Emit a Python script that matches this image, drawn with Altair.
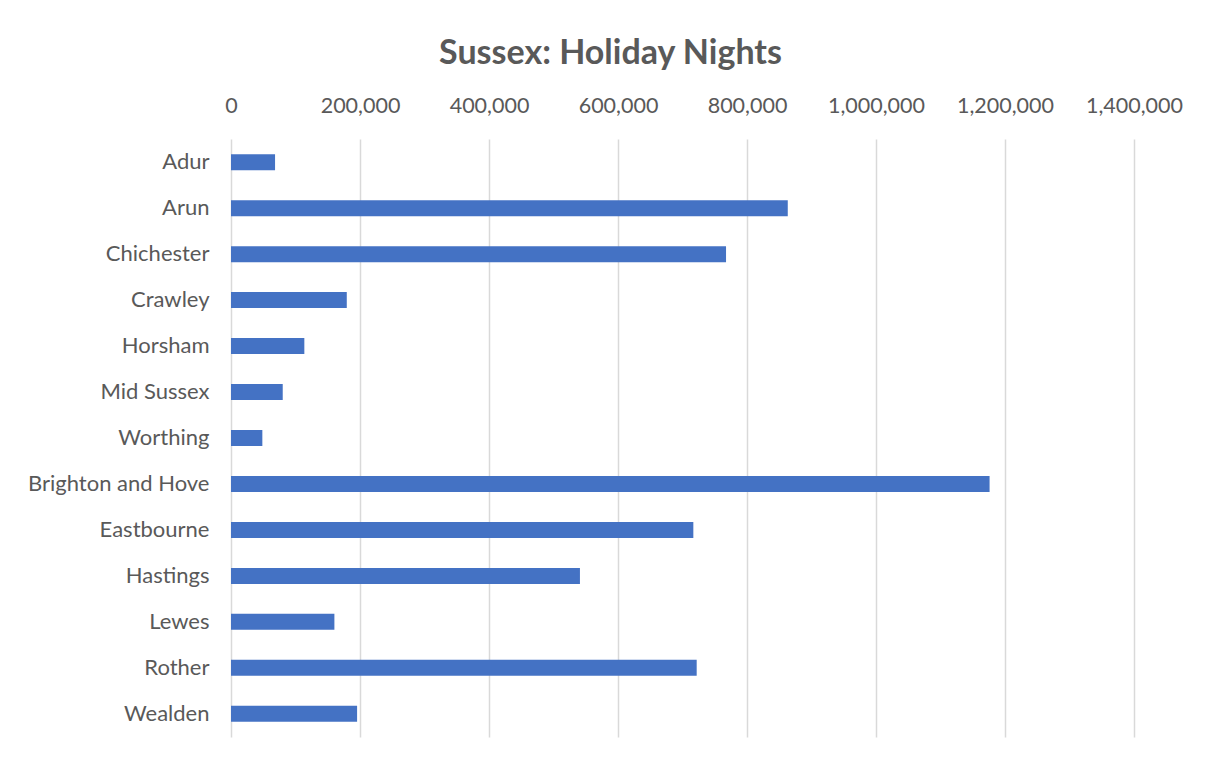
import altair as alt
import pandas as pd

districts = ["Adur", "Arun", "Chichester", "Crawley", "Horsham", "Mid Sussex", "Worthing",
             "Brighton and Hove", "Eastbourne", "Hastings", "Lewes", "Rother", "Wealden"]
nights = [68300, 863200, 767500, 179500, 113700, 80200, 48600,
          1176100, 716800, 541000, 160300, 722000, 195500]
ticks = [0, 200000, 400000, 600000, 800000, 1000000, 1200000, 1400000]

df = pd.DataFrame({"District": districts, "Nights": nights})

FONT = "Lato"
GREY = "#595959"

chart = alt.Chart(df).mark_bar(color="#4472C4", size=16).encode(
    x=alt.X("Nights:Q",
            scale=alt.Scale(domain=[0, 1400000], nice=False),
            axis=alt.Axis(orient="top", values=ticks, labelOverlap=False, labelFlush=False,
                          format=",.0f", title=None, grid=True, gridColor="#D9D9D9", gridWidth=1.5,
                          domain=False, ticks=False, labelPadding=22, labelFontSize=21.5,
                          labelColor=GREY, labelFont=FONT)),
    y=alt.Y("District:N", sort=districts,
            scale=alt.Scale(paddingInner=0.65, paddingOuter=0.33),
            axis=alt.Axis(title=None, domain=False, ticks=False, labelPadding=22, labelLimit=400,
                          labelFontSize=22, labelColor=GREY, labelFont=FONT)),
).properties(
    width=903, height=598,
    background="white",
    title=alt.TitleParams("Sussex: Holiday Nights", font=FONT, fontSize=34, fontWeight="bold",
                          color=GREY, anchor="middle", dx=-72, offset=24),
    autosize=alt.AutoSizeParams(type="none"),
    padding={"left": 223, "top": 131, "right": 60, "bottom": 16},
).configure_view(stroke=None)

chart.save("out.html", embed_options={"renderer": "svg", "actions": False})
